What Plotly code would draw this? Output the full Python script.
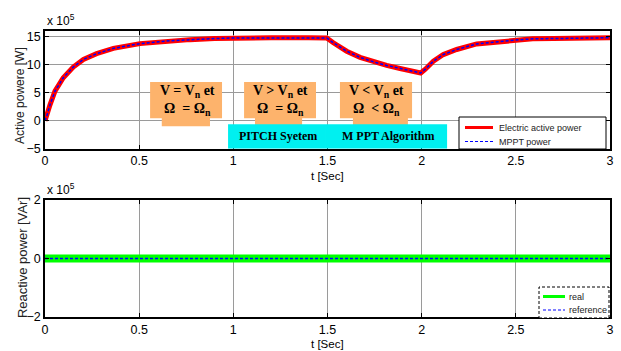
import plotly.graph_objects as go
from plotly.subplots import make_subplots

# ---------------- data ----------------
# time [s]
t_active = [0.0, 0.009, 0.027, 0.053, 0.097, 0.15, 0.204, 0.274, 0.363, 0.504,
            0.646, 0.77, 0.9, 1.0, 1.2, 1.4, 1.496, 1.531, 1.602, 1.673, 1.743,
            1.814, 1.885, 1.956, 1.995, 2.018, 2.062, 2.115, 2.186, 2.292,
            2.4, 2.5, 2.59, 2.7, 2.8, 3.0]
# electric active power [x 1e5 W]
p_electric = [0.0, 0.79, 2.87, 5.27, 7.65, 9.57, 10.93, 11.95, 12.9, 13.75,
              14.23, 14.46, 14.65, 14.75, 14.8, 14.8, 14.75, 13.9, 12.4, 11.3,
              10.5, 9.86, 9.32, 8.85, 8.5, 9.14, 10.6, 11.8, 12.7, 13.7,
              14.1, 14.4, 14.6, 14.65, 14.7, 14.8]
# MPPT power reference [x 1e5 W]
p_mppt = [0.0, 0.79, 2.87, 5.27, 7.65, 9.57, 10.93, 11.95, 12.9, 13.75,
          14.23, 14.46, 14.65, 14.75, 14.8, 14.8, 14.75, 13.9, 12.4, 11.3,
          10.5, 9.86, 9.32, 8.85, 8.5, 9.14, 10.6, 11.8, 12.7, 13.7,
          14.1, 14.4, 14.6, 14.65, 14.7, 14.8]

t_reactive = [0.0, 3.0]
q_real = [0.0, 0.0]        # [x 1e5 VAr]
q_reference = [0.0, 0.0]   # [x 1e5 VAr]

x_ticks = [0, 0.5, 1, 1.5, 2, 2.5, 3]
y1_ticks = [-5, 0, 5, 10, 15]
y2_ticks = [-2, 0, 2]

box_texts = ["V = V<sub>n</sub> et<br>Ω  = Ω<sub>n</sub>",
             "V > V<sub>n</sub> et<br>Ω  = Ω<sub>n</sub>",
             "V < V<sub>n</sub> et<br>Ω  < Ω<sub>n</sub>"]
mode_texts = ["PITCH Syetem", "M PPT Algorithm"]
legend1_labels = ["Electric active power", "MPPT power"]
legend2_labels = ["real", "reference"]

# ---------------- figure ----------------
SANS = "Liberation Sans, Arial, sans-serif"
SERIF = "Liberation Serif, Times New Roman, serif"
RED, BLUE, GREEN = "#ff0000", "#0000ff", "#00ff00"
DASH = "3px,2px"

fig = make_subplots(rows=2, cols=1)

fig.add_trace(go.Scatter(x=t_active, y=p_electric, mode="lines",
                         name=legend1_labels[0], showlegend=False,
                         line=dict(color=RED, width=5)), row=1, col=1)
fig.add_trace(go.Scatter(x=t_active, y=p_mppt, mode="lines",
                         name=legend1_labels[1], showlegend=False,
                         line=dict(color=BLUE, width=1.5, dash=DASH)), row=1, col=1)
fig.add_trace(go.Scatter(x=t_reactive, y=q_real, mode="lines",
                         name=legend2_labels[0], showlegend=False,
                         line=dict(color=GREEN, width=8)), row=2, col=1)
fig.add_trace(go.Scatter(x=t_reactive, y=q_reference, mode="lines",
                         name=legend2_labels[1], showlegend=False,
                         line=dict(color=BLUE, width=1.5, dash=DASH)), row=2, col=1)

axis_common = dict(showline=True, linecolor="black", linewidth=1.5,
                   mirror="ticks", ticks="inside", ticklen=4,
                   tickcolor="black", showgrid=True, gridcolor="#9a9a9a",
                   gridwidth=1, zeroline=False,
                   tickfont=dict(family=SANS, size=12.5, color="black"))

fig.update_xaxes(range=[0, 3], tickvals=x_ticks, **axis_common)
fig.update_yaxes(**axis_common)
fig.update_yaxes(range=[-5, 16], tickvals=y1_ticks, row=1, col=1)
fig.update_yaxes(range=[-2, 2], tickvals=y2_ticks, row=2, col=1)

fig.update_layout(
    width=621, height=351,
    margin=dict(l=45, r=11, t=31, b=34, autoexpand=False),
    paper_bgcolor="white", plot_bgcolor="white",
    xaxis=dict(domain=[0, 1]), yaxis=dict(domain=[0.5885, 1.0]),
    xaxis2=dict(domain=[0, 1]), yaxis2=dict(domain=[0.0, 0.409]),
    showlegend=False,
)


def px_x(p):
    return (p - 45) / 565.0


def px_y(p):
    return (317 - p) / 286.0


ORANGE = "#fdb36c"
CYAN = "#00f0f0"
shapes = []
# orange condition boxes (main body + lower tab) in data coords of top axes
for (x0, x1, tx0, tx1) in [(0.558, 0.94, 0.62, 0.876),
                           (1.057, 1.439, 1.115, 1.365),
                           (1.566, 1.949, 1.635, 1.927)]:
    shapes.append(dict(type="rect", xref="x", yref="y", x0=x0, x1=x1,
                       y0=0.43, y1=6.88, fillcolor=ORANGE, line_width=0,
                       layer="above"))
    shapes.append(dict(type="rect", xref="x", yref="y", x0=tx0, x1=tx1,
                       y0=-1.0, y1=0.5, fillcolor=ORANGE, line_width=0,
                       layer="above"))
# cyan mode boxes
for (x0, x1) in [(0.972, 1.492), (1.492, 2.135)]:
    shapes.append(dict(type="rect", xref="x", yref="y", x0=x0, x1=x1,
                       y0=-5, y1=-0.64, fillcolor=CYAN, line_width=0,
                       layer="above"))

# legend 1 (top panel)
shapes.append(dict(type="rect", xref="paper", yref="paper",
                   x0=px_x(459), x1=px_x(606), y0=px_y(149), y1=px_y(117),
                   fillcolor="white", line=dict(color="black", width=1),
                   layer="above"))
shapes.append(dict(type="line", xref="paper", yref="paper",
                   x0=px_x(465), x1=px_x(493), y0=px_y(127.5), y1=px_y(127.5),
                   line=dict(color=RED, width=3), layer="above"))
shapes.append(dict(type="line", xref="paper", yref="paper",
                   x0=px_x(465), x1=px_x(493), y0=px_y(141.5), y1=px_y(141.5),
                   line=dict(color=BLUE, width=1.2, dash=DASH), layer="above"))
# legend 2 (bottom panel)
shapes.append(dict(type="rect", xref="paper", yref="paper",
                   x0=px_x(539), x1=px_x(609), y0=px_y(318), y1=px_y(287),
                   fillcolor="white", line=dict(color="black", width=1, dash=DASH),
                   layer="above"))
shapes.append(dict(type="line", xref="paper", yref="paper",
                   x0=px_x(543), x1=px_x(565), y0=px_y(296.5), y1=px_y(296.5),
                   line=dict(color=GREEN, width=3), layer="above"))
shapes.append(dict(type="line", xref="paper", yref="paper",
                   x0=px_x(543), x1=px_x(565), y0=px_y(310), y1=px_y(310),
                   line=dict(color=BLUE, width=1.2, dash=DASH), layer="above"))
fig.update_layout(shapes=shapes)

ann = []
for xc, txt in zip([0.754, 1.248, 1.758], box_texts):
    ann.append(dict(x=xc, y=3.66, xref="x", yref="y", text="<b>" + txt + "</b>",
                    showarrow=False, xanchor="center", yanchor="middle",
                    font=dict(family=SERIF, size=14, color="black")))
for xc, txt in zip([1.237, 1.82], mode_texts):
    ann.append(dict(x=xc, y=-2.8, xref="x", yref="y", text="<b>" + txt + "</b>",
                    showarrow=False, xanchor="center", yanchor="middle",
                    font=dict(family=SERIF, size=12, color="black")))
# legend texts
for yp, txt in zip([127.5, 141.5], legend1_labels):
    ann.append(dict(x=px_x(497), y=px_y(yp), xref="paper", yref="paper", text=txt,
                    showarrow=False, xanchor="left", yanchor="middle",
                    font=dict(family=SANS, size=9, color="#222")))
for yp, txt in zip([296.5, 310], legend2_labels):
    ann.append(dict(x=px_x(567), y=px_y(yp), xref="paper", yref="paper", text=txt,
                    showarrow=False, xanchor="left", yanchor="middle",
                    font=dict(family=SANS, size=9, color="#222")))
# axis titles and exponent labels
ann += [
    dict(x=-0.0442, y=0.773, xref="paper", yref="paper", text="Active powere [W]",
         textangle=-90, showarrow=False, xanchor="center", yanchor="middle",
         font=dict(family=SANS, size=12, color="#222")),
    dict(x=-0.0407, y=0.206, xref="paper", yref="paper", text="Reactive power [VAr]",
         textangle=-90, showarrow=False, xanchor="center", yanchor="middle",
         font=dict(family=SANS, size=13, color="#222")),
    dict(x=0.5, y=px_y(175.5), xref="paper", yref="paper", text="t [Sec]",
         showarrow=False, xanchor="center", yanchor="middle",
         font=dict(family=SANS, size=11.5, color="black")),
    dict(x=0.5, y=px_y(344), xref="paper", yref="paper", text="t [Sec]",
         showarrow=False, xanchor="center", yanchor="middle",
         font=dict(family=SANS, size=11.5, color="black")),
    dict(x=0, y=px_y(20), xref="paper", yref="paper", text="x 10<sup>5</sup>",
         showarrow=False, xanchor="left", yanchor="middle",
         font=dict(family=SANS, size=12, color="black")),
    dict(x=0, y=px_y(189), xref="paper", yref="paper", text="x 10<sup>5</sup>",
         showarrow=False, xanchor="left", yanchor="middle",
         font=dict(family=SANS, size=12, color="black")),
]
fig.update_layout(annotations=ann)

fig.write_html("out.html")
